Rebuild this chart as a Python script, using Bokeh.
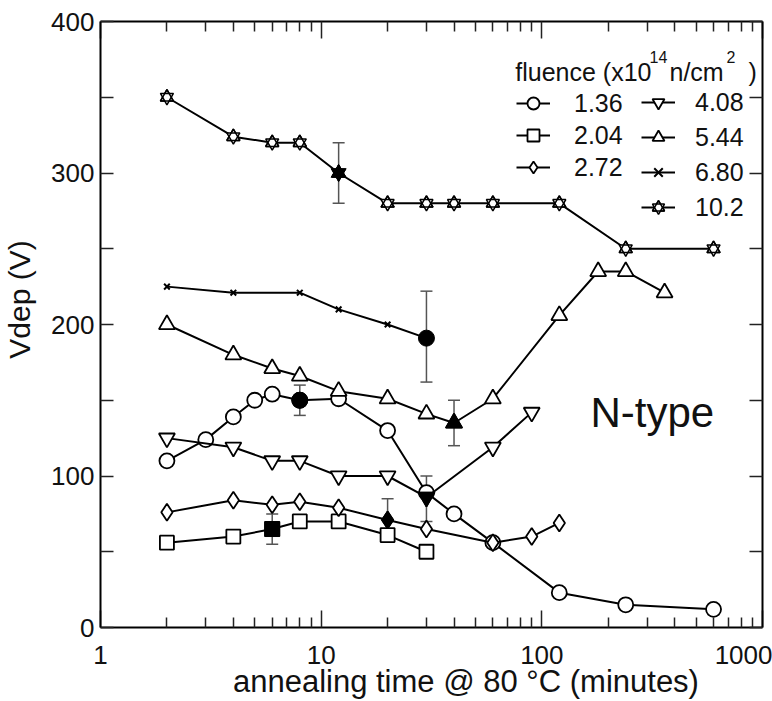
from bokeh.plotting import figure
from bokeh.models import (Range1d, LogAxis, LinearAxis, FixedTicker, PrintfTickFormatter,
                          Label, Legend, LegendItem, Whisker, TeeHead, ColumnDataSource)
from bokeh.embed import file_html
from bokeh.resources import INLINE

FONT = "Liberation Sans"

# ---------------- data ----------------
fluence = ["1.36", "2.04", "2.72", "4.08", "5.44", "6.80", "10.2"]

t_136 = [2, 3, 4, 5, 6, 8, 12, 20, 30, 40, 60, 120, 240, 600]
v_136 = [110, 124, 139, 150, 154, 150, 151, 130, 89, 75, 56, 23, 15, 12]
t_204 = [2, 4, 6, 8, 12, 20, 30]
v_204 = [56, 60, 65, 70, 70, 61, 50]
t_272 = [2, 4, 6, 8, 12, 20, 30, 60, 90, 120]
v_272 = [76, 84, 81, 83, 79, 71, 65, 56, 60, 69]
t_408 = [2, 4, 6, 8, 12, 20, 30, 60, 90]
v_408 = [125, 119, 110, 110, 100, 100, 86, 119, 142]
t_544 = [2, 4, 6, 8, 12, 20, 30, 40, 60, 120, 180, 240, 360]
v_544 = [200, 180, 171, 166, 156, 151, 141, 135, 151, 206, 235, 235, 221]
t_680 = [2, 4, 8, 12, 20, 30]
v_680 = [225, 221, 221, 210, 200, 191]
t_102 = [2, 4, 6, 8, 12, 20, 30, 40, 60, 120, 240, 600]
v_102 = [350, 324, 320, 320, 300, 280, 280, 280, 280, 280, 250, 250]

# filled points with error bars (one per fluence, same order)
err_t = [8, 6, 20, 30, 40, 30, 12]
err_v = [150, 65, 71, 86, 135, 191, 300]
err_lo = [140, 55, 58, 70, 120, 162, 280]
err_hi = [160, 75, 85, 100, 150, 222, 320]

x_ticks = [1, 10, 100, 1000]
x_minor = [2, 3, 4, 5, 6, 7, 8, 9, 20, 30, 40, 50, 60, 70, 80, 90,
           200, 300, 400, 500, 600, 700, 800, 900]
y_ticks = [0, 100, 200, 300, 400]
y_minor = [50, 150, 250, 350]

series_t = [t_136, t_204, t_272, t_408, t_544, t_680, t_102]
series_v = [v_136, v_204, v_272, v_408, v_544, v_680, v_102]

# ---------------- styles ----------------
markers = ["circle", "square", "diamond", "inverted_triangle", "triangle", "x", "hexagram"]
filled_markers = ["circle", "square", "diamond", "inverted_triangle", "triangle", "circle", "hexagram"]
msize = {"circle": 15, "square": 14, "diamond": 17, "inverted_triangle": 16,
         "triangle": 16, "x": 8, "hexagram": 13}

p = figure(width=772, height=701, x_axis_type="log",
           x_range=Range1d(1, 1000), y_range=Range1d(0, 400),
           output_backend="svg", toolbar_location=None,
           min_border_left=99, min_border_right=10, min_border_top=21, min_border_bottom=73)
p.grid.visible = False
p.outline_line_color = None
p.background_fill_color = "white"
p.border_fill_color = "white"

xticker = FixedTicker(ticks=x_ticks, minor_ticks=x_minor)
yticker = FixedTicker(ticks=y_ticks, minor_ticks=y_minor)


def style_axis(ax, major_in, minor_in, show_labels, standoff):
    ax.axis_line_color = "black"
    ax.axis_line_width = 2
    ax.major_tick_in = major_in
    ax.major_tick_out = 0
    ax.minor_tick_in = minor_in
    ax.minor_tick_out = 0
    ax.major_tick_line_color = "#222222"
    ax.major_tick_line_width = 1.5
    ax.minor_tick_line_color = "#222222"
    ax.minor_tick_line_width = 1.5
    if show_labels:
        ax.major_label_text_font = FONT
        ax.major_label_text_font_size = "26px"
        ax.major_label_text_color = "#111111"
        ax.major_label_standoff = standoff
    else:
        ax.major_label_text_font_size = "1px"
        ax.major_label_text_alpha = 0
        ax.major_label_standoff = 0


def style_title(ax, text, size, standoff):
    ax.axis_label = text
    ax.axis_label_text_font = FONT
    ax.axis_label_text_font_size = size
    ax.axis_label_text_font_style = "normal"
    ax.axis_label_text_color = "#111111"
    ax.axis_label_standoff = standoff


NBSP = "\u00a0"

xa = p.xaxis[0]
xa.ticker = xticker
xa.formatter = PrintfTickFormatter(format="%d")
style_axis(xa, 17, 10, True, 18)
style_title(xa, NBSP * 8 + "annealing time @ 80 °C (minutes)", "31px", -3)

ya = p.yaxis[0]
ya.ticker = yticker
style_axis(ya, 13, 13, True, 6)
style_title(ya, NBSP * 6 + "Vdep (V)", "30px", 12)

top = LogAxis(ticker=xticker)
style_axis(top, 17, 10, False, 0)
p.add_layout(top, "above")
right = LinearAxis(ticker=yticker)
style_axis(right, 13, 13, False, 0)
p.add_layout(right, "right")

# error bars
src_err = ColumnDataSource(dict(t=err_t, lo=err_lo, hi=err_hi))
ec = "#555555"
p.add_layout(Whisker(source=src_err, base="t", lower="lo", upper="hi",
                     line_color=ec, line_width=1.5,
                     upper_head=TeeHead(size=12, line_color=ec, line_width=1.5),
                     lower_head=TeeHead(size=12, line_color=ec, line_width=1.5)))

legend_renderers = []
for i, name in enumerate(fluence):
    src = ColumnDataSource(dict(t=series_t[i], v=series_v[i]))
    ln = p.line("t", "v", source=src, line_color="black", line_width=2)
    rends = [ln]
    m = markers[i]
    if m == "hexagram":
        rends.append(p.scatter("t", "v", source=src, marker="triangle", size=msize[m],
                               fill_color="white", line_color="black", line_width=1.5))
        rends.append(p.scatter("t", "v", source=src, marker="inverted_triangle", size=msize[m],
                               fill_color="white", line_color="black", line_width=1.5))
        rends.append(p.scatter("t", "v", source=src, marker="triangle", size=msize[m],
                               fill_color=None, line_color="black", line_width=1.5))
    elif m == "x":
        rends.append(p.scatter("t", "v", source=src, marker="x", size=msize[m],
                               line_color="black", line_width=2))
    else:
        rends.append(p.scatter("t", "v", source=src, marker=m, size=msize[m],
                               fill_color="white", line_color="black", line_width=1.8))
    legend_renderers.append(rends)

# filled points
for i, name in enumerate(fluence):
    fsrc = ColumnDataSource(dict(t=[err_t[i]], v=[err_v[i]]))
    fm = filled_markers[i]
    if fm == "hexagram":
        for mk in ("triangle", "inverted_triangle"):
            p.scatter("t", "v", source=fsrc, marker=mk, size=msize[fm] + 2,
                      fill_color="black", line_color="black")
    else:
        p.scatter("t", "v", source=fsrc, marker=fm, size=msize[fm] + 1,
                  fill_color="black", line_color="black")

# legends (two columns)
common = dict(orientation="vertical", padding=0, margin=0, glyph_width=34, glyph_height=30,
              label_text_font=FONT, label_text_font_size="25px", label_text_color="#111111",
              border_line_color=None, background_fill_alpha=0, label_height=30)
leg1 = Legend(items=[LegendItem(label=fluence[i], renderers=legend_renderers[i]) for i in range(3)],
              location=(416, 445), spacing=2, label_standoff=24, **common)
leg2 = Legend(items=[LegendItem(label=fluence[i], renderers=legend_renderers[i]) for i in range(3, 7)],
              location=(541, 405), spacing=5, label_standoff=20, **common)
p.add_layout(leg1)
p.add_layout(leg2)


def slabel(x, y, text, size, align="left"):
    p.add_layout(Label(x=x, y=y, x_units="screen", y_units="screen", text=text,
                       text_font=FONT, text_font_size=size, text_color="#111111",
                       text_align=align, text_baseline="alphabetic"))


# legend title with superscripts
slabel(551, 556, "fluence (x10", "25px", "right")
slabel(549, 571, "14", "16px")
slabel(569, 556, "n/cm", "25px")
slabel(626, 571, "2", "16px")
slabel(648, 556, ")", "25px")

# N-type annotation
p.add_layout(Label(x=166, y=142, text="N-type", text_font=FONT, text_font_size="42px",
                   text_color="#111111", text_baseline="alphabetic"))

open("out.html", "w").write(file_html(p, INLINE))
